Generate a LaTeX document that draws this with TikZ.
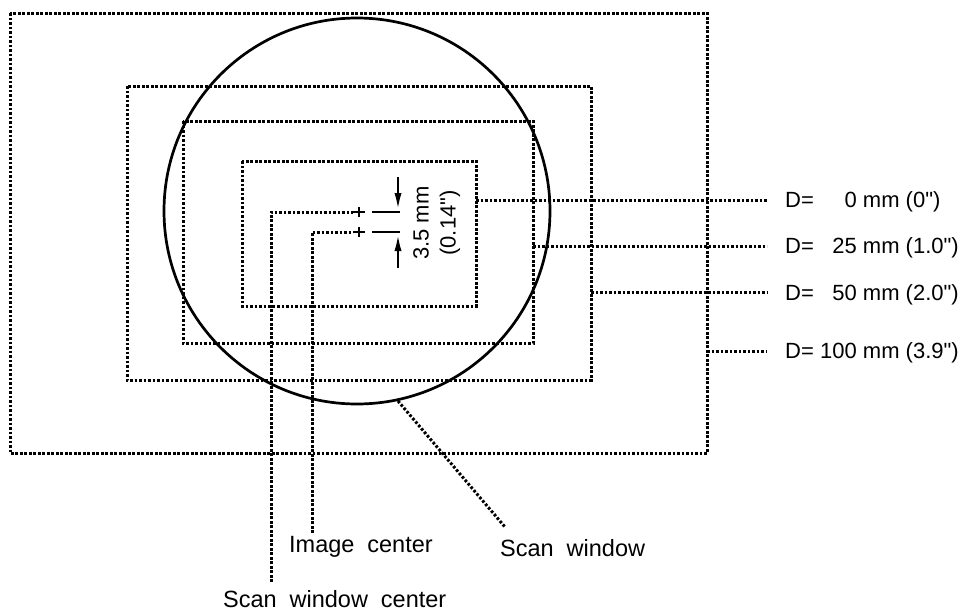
\documentclass[tikz,border=0pt]{standalone}
\usepackage{fontspec}
\setmainfont{Liberation Sans}
\usetikzlibrary{arrows.meta,calc}
\tikzset{
  dotline/.style={line width=3pt, dash pattern=on 2.6pt off 1.9pt},
  solidline/.style={line width=2.8pt},
  lbl/.style={font=\fontsize{22}{26}\selectfont, inner sep=0pt},
  blbl/.style={font=\fontsize{23.5}{27}\selectfont, inner sep=0pt},
  plusmark/.style={line width=2.2pt},
}
\newcommand{\wsp}{\hspace{0.55em}}
\newcommand{\qq}{\textquotedbl}
\begin{document}
\begin{tikzpicture}[x=1pt,y=-1pt]
\useasboundingbox (0,0) rectangle (962,611);
% rectangles
\draw[dotline] (10,13) rectangle (707,453);
\draw[dotline] (127,86) rectangle (591,380);
\draw[dotline] (183,121) rectangle (533,343);
\draw[dotline] (242,161) rectangle (476,306);
% scan window circle
\coordinate (cc) at (357,211);
\draw[line width=2.7pt] (cc) circle (193);
% leader lines to labels
\coordinate (e0) at (767,200);
\coordinate (e25) at (767,246);
\coordinate (e50) at (767,292);
\coordinate (e100) at (767,351);
\draw[dotline] (476,200) -- (e0);
\draw[dotline] (533,246) -- (e25);
\draw[dotline] (591,292) -- (e50);
\draw[dotline] (707,351) -- (e100);
\node[lbl, anchor=base west] (d0) at (785,207.5) {D=\makebox[1.95em][r]{0} mm (0\qq)};
\node[lbl, anchor=base west] (d25) at (785,253.5) {D=\makebox[1.95em][r]{25} mm (1.0\qq)};
\node[lbl, anchor=base west] (d50) at (785,300) {D=\makebox[1.95em][r]{50} mm (2.0\qq)};
\node[lbl, anchor=base west] (d100) at (785,358) {D=\makebox[1.95em][r]{100} mm (3.9\qq)};
% centers
\coordinate (swc) at (359,212);
\coordinate (imc) at (359,232);
\draw[plusmark] ($(swc)+(-6,0)$) -- ($(swc)+(6,0)$) ($(swc)+(0,-5)$) -- ($(swc)+(0,5)$);
\draw[plusmark] ($(imc)+(-6,0)$) -- ($(imc)+(6,0)$) ($(imc)+(0,-5)$) -- ($(imc)+(0,5)$);
\draw[solidline] (372,212) -- (400,212);
\draw[solidline] (372,232) -- (400,232);
\coordinate (at1) at (398,177);
\coordinate (at2) at (398,212);
\coordinate (ab1) at (398,268);
\coordinate (ab2) at (398,232);
\draw[line width=2.8pt, -{Latex[length=19pt,width=7pt]}] (at1) -- (at2);
\draw[line width=2.8pt, -{Latex[length=19pt,width=7pt]}] (ab1) -- (ab2);
\node[lbl, rotate=90] (dim1) at (421,223) {3.5 mm};
\node[lbl, rotate=90] (dim2) at (450,223) {(0.14\qq)};
% labels at bottom
\node[blbl, anchor=base west] (limc) at (289,552) {Image\wsp center};
\node[blbl, anchor=base west] (lsw) at (500,556) {Scan\wsp window};
\node[blbl, anchor=base west] (lswc) at (223,607) {Scan\wsp window\wsp center};
\coordinate (swv) at (271,582);
\coordinate (imv) at (312,533);
\draw[dotline] (swv) -- (271,212) -- ($(swc)+(-6,0)$);
\draw[dotline] (imv) -- (312,232) -- ($(imc)+(-6,0)$);
\coordinate (cp) at (398,401);
\coordinate (swe) at (505,527);
\draw[dotline] (cp) -- (swe);
\end{tikzpicture}
\end{document}
